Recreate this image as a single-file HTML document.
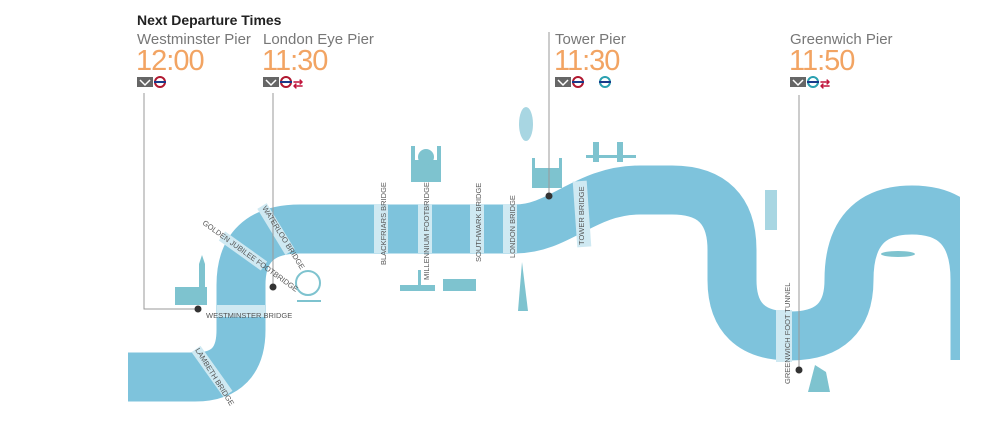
<!DOCTYPE html>
<html><head><meta charset="utf-8"><style>
html,body{margin:0;padding:0;background:#fff;width:1000px;height:426px;overflow:hidden}
svg{display:block}
.t{font-family:"Liberation Sans",sans-serif}
</style></head><body>
<svg width="1000" height="426" viewBox="0 0 1000 426" xmlns="http://www.w3.org/2000/svg">
<defs><clipPath id="c"><rect x="0" y="0" width="960" height="426"/></clipPath></defs>
<g clip-path="url(#c)">
<path d="M128,377 L195,377 Q241,377 241,330 L241,285 Q241,229 300,229 L515,229 C560,229 585,190 640,190 L672,190 Q732,190 732,250 L732,280 Q732,336 790,336 Q849,336 849,280 Q849,210 912,210 Q975,210 975,280 L975,360" fill="none" stroke="#7ec3dc" stroke-width="49"/>
</g>
<!-- bridges -->
<g fill="#cfe9f2">
<rect x="374" y="204" width="14" height="49"/>
<rect x="418" y="204" width="14" height="49"/>
<rect x="470" y="204" width="14" height="49"/>
<rect x="503" y="204" width="14" height="49"/>
<rect x="575" y="181" width="14" height="66" transform="rotate(-4 582 214)"/>
<rect x="217" y="305" width="48" height="12"/>
<rect x="776" y="310" width="16" height="52"/>
</g>
<g stroke="#cfe9f2" stroke-width="11">
<line x1="196" y1="349" x2="228" y2="394"/>
<line x1="262" y1="206" x2="290" y2="252"/>
<line x1="222" y1="236" x2="264" y2="266"/>
</g>
<!-- landmarks -->
<g fill="#7ec3cf">
<rect x="175" y="287" width="32" height="18"/><rect x="199" y="264" width="6" height="41"/><polygon points="199,264 202,255 205,264"/>
<circle cx="308" cy="283" r="12" fill="none" stroke="#7ec3cf" stroke-width="2"/><rect x="297" y="300" width="24" height="2"/>
<rect x="411" y="160" width="30" height="22"/><circle cx="426" cy="157" r="8"/><rect x="411" y="146" width="4" height="16"/><rect x="437" y="146" width="4" height="16"/>
<rect x="400" y="285" width="35" height="6"/><rect x="418" y="270" width="3" height="16"/>
<rect x="443" y="279" width="33" height="12"/>
<ellipse cx="526" cy="124" rx="7" ry="17" fill="#a8d6e2"/>
<rect x="532" y="168" width="30" height="20"/><rect x="532" y="158" width="3" height="12"/><rect x="559" y="158" width="3" height="12"/>
<polygon points="518,311 522,262 528,311"/>
<rect x="586" y="155" width="50" height="3"/><rect x="593" y="142" width="6" height="20"/><rect x="617" y="142" width="6" height="20"/>
<rect x="765" y="190" width="12" height="40" fill="#a8d6e2"/>
<ellipse cx="898" cy="254" rx="17" ry="3"/>
<polygon points="808,392 830,392 826,372 815,365"/>
</g>
<!-- pier lines -->
<g stroke="#999" stroke-width="1" fill="none">
<polyline points="144,93 144,309 197,309"/>
<line x1="273" y1="93" x2="273" y2="287"/>
<line x1="549" y1="32" x2="549" y2="196"/>
<line x1="799" y1="95" x2="799" y2="370"/>
</g>
<g fill="#333"><circle cx="198" cy="309" r="3.5"/><circle cx="273" cy="287" r="3.5"/><circle cx="549" cy="196" r="3.5"/><circle cx="799" cy="370" r="3.5"/></g>
<!-- header text -->
<text class="t" x="137" y="25" font-size="14" font-weight="bold" fill="#222">Next Departure Times</text>
<g class="t" font-size="15" fill="#777">
<text x="137" y="44">Westminster Pier</text><text x="263" y="44">London Eye Pier</text>
<text x="555" y="44">Tower Pier</text><text x="790" y="44">Greenwich Pier</text>
</g>
<g class="t" font-size="29" fill="#f2a463" letter-spacing="-1">
<text x="136" y="70">12:00</text><text x="262" y="70">11:30</text>
<text x="554" y="70">11:30</text><text x="789" y="70">11:50</text>
</g>
<!-- icons -->
<g>
<rect x="137" y="77" width="16" height="10" fill="#666"/><circle cx="160" cy="82" r="5" fill="none" stroke="#b01830" stroke-width="2"/><rect x="154" y="81" width="12" height="2" fill="#1a3a8a"/>
<rect x="263" y="77" width="16" height="10" fill="#666"/><circle cx="286" cy="82" r="5" fill="none" stroke="#b01830" stroke-width="2"/><rect x="280" y="81" width="12" height="2" fill="#1a3a8a"/><text class="t" x="293" y="88" font-size="12" fill="#c0143c" font-weight="bold">⇄</text>
<rect x="555" y="77" width="16" height="10" fill="#666"/><circle cx="578" cy="82" r="5" fill="none" stroke="#b01830" stroke-width="2"/><rect x="572" y="81" width="12" height="2" fill="#1a3a8a"/>
<circle cx="605" cy="82" r="5" fill="none" stroke="#2aa0b0" stroke-width="2"/><rect x="599" y="81" width="12" height="2" fill="#1a3a8a"/>
<rect x="790" y="77" width="16" height="10" fill="#666"/><circle cx="813" cy="82" r="5" fill="none" stroke="#2aa0b0" stroke-width="2"/><rect x="807" y="81" width="12" height="2" fill="#1a3a8a"/><text class="t" x="820" y="88" font-size="12" fill="#c0143c" font-weight="bold">⇄</text>
</g>
<g><polyline points="140,80 145,85 150,80" stroke="#fff" fill="none" stroke-width="1.5"/><polyline points="266,80 271,85 276,80" stroke="#fff" fill="none" stroke-width="1.5"/><polyline points="558,80 563,85 568,80" stroke="#fff" fill="none" stroke-width="1.5"/><polyline points="793,80 798,85 803,80" stroke="#fff" fill="none" stroke-width="1.5"/></g>
<!-- bridge labels -->
<g class="t" font-size="7.5" fill="#555">
<text transform="translate(386,265) rotate(-90)">BLACKFRIARS BRIDGE</text>
<text transform="translate(429,280) rotate(-90)">MILLENNIUM FOOTBRIDGE</text>
<text transform="translate(481,262) rotate(-90)">SOUTHWARK BRIDGE</text>
<text transform="translate(515,258) rotate(-90)">LONDON BRIDGE</text>
<text transform="translate(584,245) rotate(-90)">TOWER BRIDGE</text>
<text transform="translate(790,384) rotate(-90)">GREENWICH FOOT TUNNEL</text>
<text x="206" y="318">WESTMINSTER BRIDGE</text>
<text transform="translate(195,350) rotate(58)">LAMBETH BRIDGE</text>
<text transform="translate(262,208) rotate(58)">WATERLOO BRIDGE</text>
<text transform="translate(202,224) rotate(36)">GOLDEN JUBILEE FOOTBRIDGE</text>
</g>
</svg>
</body></html>
